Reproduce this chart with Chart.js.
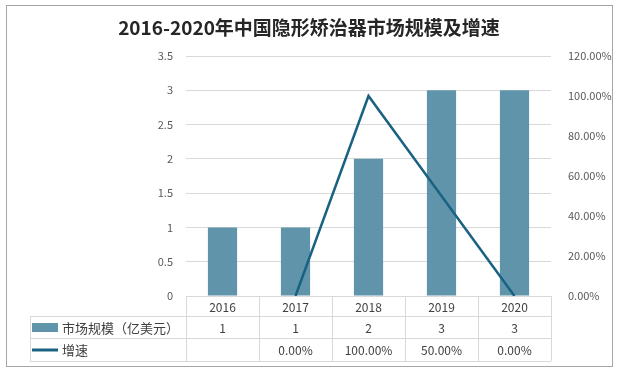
<!DOCTYPE html>
<html>
<head>
<meta charset="utf-8">
<script src="https://cdn.jsdelivr.net/npm/chart.js@4"></script>
<style>
  html, body { margin: 0; padding: 0; background: #fff; }
  #wrap { width: 619px; height: 372px; }
</style>
</head>
<body>
<div id="wrap"><canvas id="myChart1" width="619" height="372"></canvas></div>
<script>
// ---- データ ----
const TITLE = '2016-2020年中国隐形矫治器市场规模及增速'
const years = ['2016', '2017', '2018', '2019', '2020']
const marketSize = [1, 1, 2, 3, 3]              // 市场规模（亿美元）
const growthRate = [null, 0, 100, 50, 0]        // 增速 (%)
const leftTicks = [0, 0.5, 1, 1.5, 2, 2.5, 3, 3.5]
const rightTicks = [0, 20, 40, 60, 80, 100, 120]
const SERIES_BAR = '市场规模（亿美元）'
const SERIES_LINE = '增速'

const BAR_COLOR = '#6094ab'
const LINE_COLOR = '#1a6282'
const GRID_COLOR = '#d9d9d9'
const TEXT_COLOR = '#404040'
const FONT = '"Noto Sans CJK SC", "Noto Sans", sans-serif'

function pct(v){ return v.toFixed(2) + '%' }

// タイトル・データテーブル描画
const tablePlugin = {
    id: 'tablePlugin',
    afterDraw(chart){
        const ctx = chart.ctx
        const x = chart.scales.x
        const y = chart.scales.y
        const area = chart.chartArea
        const left = area.left, right = area.right
        const top = y.getPixelForValue(0)
        const rows = [top, top + 20, top + 42, top + 65]
        const labelLeft = 30
        ctx.save()
        // 外枠
        ctx.strokeStyle = '#a6a6a6'
        ctx.lineWidth = 1
        ctx.strokeRect(6.5, 5.5, 606, 361)
        // タイトル
        ctx.fillStyle = '#262626'
        ctx.font = 'bold 19px ' + FONT
        ctx.textAlign = 'center'
        ctx.textBaseline = 'middle'
        ctx.fillText(TITLE, 309, 28)

        // 罫線
        ctx.strokeStyle = GRID_COLOR
        ctx.beginPath()
        ctx.moveTo(left, rows[0] + 0.5); ctx.lineTo(right, rows[0] + 0.5)
        for (let r = 1; r < rows.length; r++){
            ctx.moveTo(labelLeft, rows[r] + 0.5); ctx.lineTo(right, rows[r] + 0.5)
        }
        ctx.moveTo(labelLeft + 0.5, rows[1]); ctx.lineTo(labelLeft + 0.5, rows[3])
        const step = (right - left) / years.length
        for (let i = 0; i <= years.length; i++){
            const px = Math.round(left + step * i) + 0.5
            ctx.moveTo(px, rows[0]); ctx.lineTo(px, rows[3])
        }
        ctx.stroke()

        // セル文字
        ctx.fillStyle = TEXT_COLOR
        ctx.font = '12px ' + FONT
        ctx.textAlign = 'center'
        for (let i = 0; i < years.length; i++){
            const cx = x.getPixelForValue(i)
            ctx.fillText(years[i], cx, (rows[0] + rows[1]) / 2 + 1)
            ctx.fillText(String(marketSize[i]), cx, (rows[1] + rows[2]) / 2 + 1)
            if (growthRate[i] !== null){
                ctx.fillText(pct(growthRate[i]), cx, (rows[2] + rows[3]) / 2 + 1)
            }
        }
        // 凡例
        ctx.fillStyle = BAR_COLOR
        ctx.fillRect(32, rows[1] + 7, 26, 9)
        ctx.strokeStyle = LINE_COLOR
        ctx.lineWidth = 3
        ctx.beginPath()
        ctx.moveTo(32, (rows[2] + rows[3]) / 2 + 0.5)
        ctx.lineTo(58, (rows[2] + rows[3]) / 2 + 0.5)
        ctx.stroke()
        ctx.fillStyle = TEXT_COLOR
        ctx.font = '13px ' + FONT
        ctx.textAlign = 'left'
        ctx.fillText(SERIES_BAR, 62, (rows[1] + rows[2]) / 2 + 1)
        ctx.fillText(SERIES_LINE, 62, (rows[2] + rows[3]) / 2 + 1)
        ctx.restore()
    }
}

const ctx = document.getElementById('myChart1')
window.myChart = new Chart(ctx, {
    type: 'bar',
    data: {
        labels: years,
        datasets: [
            {
                type: 'line',
                label: SERIES_LINE,
                data: growthRate,
                yAxisID: 'y1',
                borderColor: LINE_COLOR,
                borderWidth: 2.5,
                pointRadius: 0,
                fill: false,
                tension: 0,
                order: 0
            },
            {
                type: 'bar',
                label: SERIES_BAR,
                data: marketSize,
                yAxisID: 'y',
                backgroundColor: BAR_COLOR,
                categoryPercentage: 1,
                barPercentage: 0.4,
                order: 1
            }
        ]
    },
    options: {
        responsive: false,
        animation: false,
        layout: { padding: { left: 0, right: 0, top: 56, bottom: 76 } },
        plugins: {
            legend: { display: false },
            title: { display: false },
            tooltip: { enabled: false }
        },
        scales: {
            x: { display: false },
            y: {
                position: 'left',
                min: 0, max: 3.5,
                afterBuildTicks: (s) => { s.ticks = leftTicks.map(v => ({ value: v })) },
                afterFit: (s) => { s.width = 186 },
                grid: { color: GRID_COLOR, drawTicks: false },
                border: { display: false },
                ticks: {
                    color: '#595959', padding: 13,
                    font: { size: 11, family: FONT },
                    callback: (v) => String(v)
                }
            },
            y1: {
                position: 'right',
                min: 0, max: 120,
                afterBuildTicks: (s) => { s.ticks = rightTicks.map(v => ({ value: v })) },
                afterFit: (s) => { s.width = 68 },
                grid: { display: false },
                border: { display: false },
                ticks: {
                    color: '#595959', padding: 9,
                    font: { size: 11, family: FONT },
                    callback: (v) => pct(v)
                }
            }
        }
    },
    plugins: [tablePlugin]
})
</script>
</body>
</html>
